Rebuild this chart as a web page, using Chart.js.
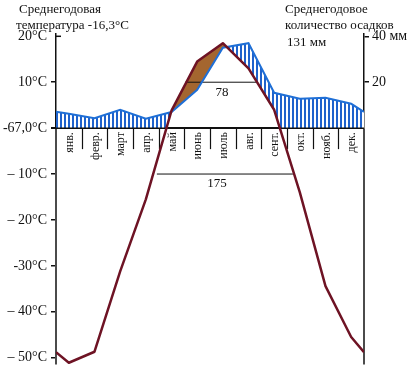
<!DOCTYPE html>
<html>
<head>
<meta charset="utf-8">
<style>
    html, body { margin: 0; padding: 0; background: #fff; }
</style>
<script src="https://cdn.jsdelivr.net/npm/chart.js@4"></script>
</head>
<body>
<canvas id="climate" width="410" height="377"></canvas>
<script>
(function () {
    'use strict';

    var months = ['янв.', 'февр.', 'март', 'апр.', 'май', 'июнь', 'июль', 'авг.', 'сент.', 'окт.', 'нояб.', 'дек.'];
    var tempC = [-51.1, -48.7, -31.2, -15.5, 3.8, 14.5, 18.5, 13.0, 4.0, -14.0, -34.4, -45.5];
    var tempYearEdge = -48.8;
    var precipMm = [6.3, 4.3, 8.0, 4.1, 7.0, 16.7, 35.0, 37.0, 15.4, 12.8, 13.2, 10.6];
    var precipYearEdge = 7.1;

    var tempTicks = [20, 10, 0, -10, -20, -30, -40, -50];
    var tempTickLabels = ['20°C', '10°C', '-67,0°C', '– 10°C', '– 20°C', '-30°C', '– 40°C', '– 50°C'];
    var precipTicks = [40, 20];
    var precipTickLabels = ['40 мм', '20'];

    // periods with temperature above 10°C and above -10°C (days)
    var periodLevels = [10, -10];
    var periodFrom = [5.03, 3.93];
    var periodTo = [7.87, 9.23];
    var periodDays = ['78', '175'];
    var periodLabelAt = [6.47, 6.27];

    var colors = {
        temp: '#6e1324',
        precip: '#1f6fd6',
        hatch: '#1f62cc',
        dry: '#a4662f',
        ink: '#111111',
    };
    var serif = 'Liberation Serif';

    function yearPoints(values, edge) {
        var pts = [{ x: 0, y: edge }];
        values.forEach(function (v, i) {
            pts.push({ x: i + 0.5, y: v });
        });
        pts.push({ x: 12, y: edge });
        return pts;
    }

    var canvas = document.getElementById('climate');
    var ctx = canvas.getContext('2d');

    var tile = document.createElement('canvas');
    tile.width = 4;
    tile.height = 4;
    var tctx = tile.getContext('2d');
    tctx.fillStyle = '#ffffff';
    tctx.fillRect(0, 0, 4, 4);
    tctx.fillStyle = colors.hatch;
    tctx.fillRect(0, 0, 2, 4);
    var hatch = ctx.createPattern(tile, 'repeat');

    var datasets = [
        {
            label: 'temp',
            data: yearPoints(tempC, tempYearEdge),
            yAxisID: 'y',
            borderColor: colors.temp,
            borderWidth: 2.5,
            borderJoinStyle: 'round',
            pointRadius: 0,
            tension: 0,
            fill: { target: 1, above: colors.dry, below: 'transparent' },
        },
        {
            label: 'precip',
            data: yearPoints(precipMm, precipYearEdge),
            yAxisID: 'y2',
            borderColor: colors.precip,
            borderWidth: 2,
            pointRadius: 0,
            tension: 0,
            fill: { target: 0, above: hatch, below: 'transparent' },
        },
    ];
    periodLevels.forEach(function (lvl, i) {
        datasets.push({
            label: 'period' + i,
            data: [{ x: periodFrom[i], y: lvl }, { x: periodTo[i], y: lvl }],
            yAxisID: 'y',
            borderColor: colors.ink,
            borderWidth: 1,
            pointRadius: 0,
            fill: false,
        });
    });

    var decor = {
        id: 'decor',
        beforeDatasetsDraw: function (chart) {
            var c = chart.ctx;
            var a = chart.chartArea;
            var xs = chart.scales.x;
            var y0 = chart.scales.y.getPixelForValue(0);
            c.save();
            // hatching stops at the 0°C baseline
            c.fillStyle = '#ffffff';
            c.fillRect(a.left - 1, y0, a.right - a.left + 2, a.bottom - y0 + 2);
            c.strokeStyle = colors.ink;
            c.lineWidth = 1.5;
            c.beginPath();
            c.moveTo(a.left - 5, y0);
            c.lineTo(a.right, y0);
            c.moveTo(a.left, y0);
            c.lineTo(a.left, a.bottom);
            c.moveTo(a.right, y0);
            c.lineTo(a.right, a.bottom);
            c.stroke();
            c.lineWidth = 1.2;
            for (var k = 1; k < 12; k++) {
                var sx = Math.round(xs.getPixelForValue(k)) + 0.5;
                c.beginPath();
                c.moveTo(sx, y0);
                c.lineTo(sx, y0 + 21);
                c.stroke();
            }
            c.fillStyle = colors.ink;
            c.font = '12px "' + serif + '"';
            c.textAlign = 'right';
            c.textBaseline = 'middle';
            months.forEach(function (m, i) {
                c.save();
                c.translate(xs.getPixelForValue(i + 0.5) + 1, y0 + 4);
                c.rotate(-Math.PI / 2);
                c.fillText(m, 0, 0);
                c.restore();
            });
            c.restore();
        },
        afterDraw: function (chart) {
            var c = chart.ctx;
            var xs = chart.scales.x;
            var ys = chart.scales.y;
            c.save();
            c.fillStyle = colors.ink;
            c.textBaseline = 'middle';
            c.font = '13px "' + serif + '"';
            c.textAlign = 'center';
            periodLevels.forEach(function (lvl, i) {
                c.fillText(periodDays[i], xs.getPixelForValue(periodLabelAt[i]), ys.getPixelForValue(lvl) + 10);
            });
            c.textAlign = 'left';
            c.fillText('Среднегодовая', 19, 10);
            c.fillText('температура -16,3°C', 16, 26);
            c.fillText('Среднегодовое', 285, 10);
            c.fillText('количество осадков', 285, 26);
            c.fillText('131 мм', 287, 43);
            // hook at the top of the temperature axis
            var a = chart.chartArea;
            var y20 = ys.getPixelForValue(20);
            c.strokeStyle = colors.ink;
            c.lineWidth = 1.5;
            c.beginPath();
            c.moveTo(a.left, y20);
            c.lineTo(a.left + 5, y20);
            c.stroke();
            c.restore();
        },
    };

    new Chart(ctx, {
        type: 'line',
        data: { datasets: datasets },
        options: {
            responsive: false,
            animation: false,
            layout: { padding: { top: 34, bottom: 11, left: 0, right: 0 } },
            plugins: {
                legend: { display: false },
                tooltip: { enabled: false },
                filler: { drawTime: 'beforeDatasetsDraw' },
            },
            scales: {
                x: {
                    type: 'linear',
                    min: 0,
                    max: 12,
                    display: false,
                },
                y: {
                    position: 'left',
                    min: -51.5,
                    max: 20.5,
                    afterBuildTicks: function (scale) {
                        scale.ticks = tempTicks.map(function (v) {
                            return { value: v };
                        });
                    },
                    afterFit: function (scale) {
                        scale.width = 56;
                    },
                    ticks: {
                        color: colors.ink,
                        font: { family: serif, size: 14 },
                        padding: 4,
                        callback: function (value, index) {
                            return tempTickLabels[index];
                        },
                    },
                    grid: {
                        drawOnChartArea: true,
                        tickLength: 5,
                        lineWidth: 1.5,
                        color: function (c) {
                            return c.tick && c.tick.value === 0 ? colors.ink : 'transparent';
                        },
                        tickColor: function (c) {
                            return c.tick && c.tick.value === 20 ? 'transparent' : colors.ink;
                        },
                    },
                    border: { display: true, color: colors.ink, width: 1.5 },
                },
                y2: {
                    position: 'right',
                    min: -103,
                    max: 41,
                    afterBuildTicks: function (scale) {
                        scale.ticks = precipTicks.map(function (v) {
                            return { value: v };
                        });
                    },
                    afterFit: function (scale) {
                        scale.width = 46;
                    },
                    ticks: {
                        color: colors.ink,
                        font: { family: serif, size: 14 },
                        padding: 3,
                        callback: function (value, index) {
                            return precipTickLabels[index];
                        },
                    },
                    grid: {
                        drawOnChartArea: false,
                        tickLength: 5,
                        lineWidth: 1.5,
                        tickColor: colors.ink,
                    },
                    border: { display: true, color: colors.ink, width: 1.5 },
                },
            },
        },
        plugins: [decor],
    });
})();
</script>
</body>
</html>
